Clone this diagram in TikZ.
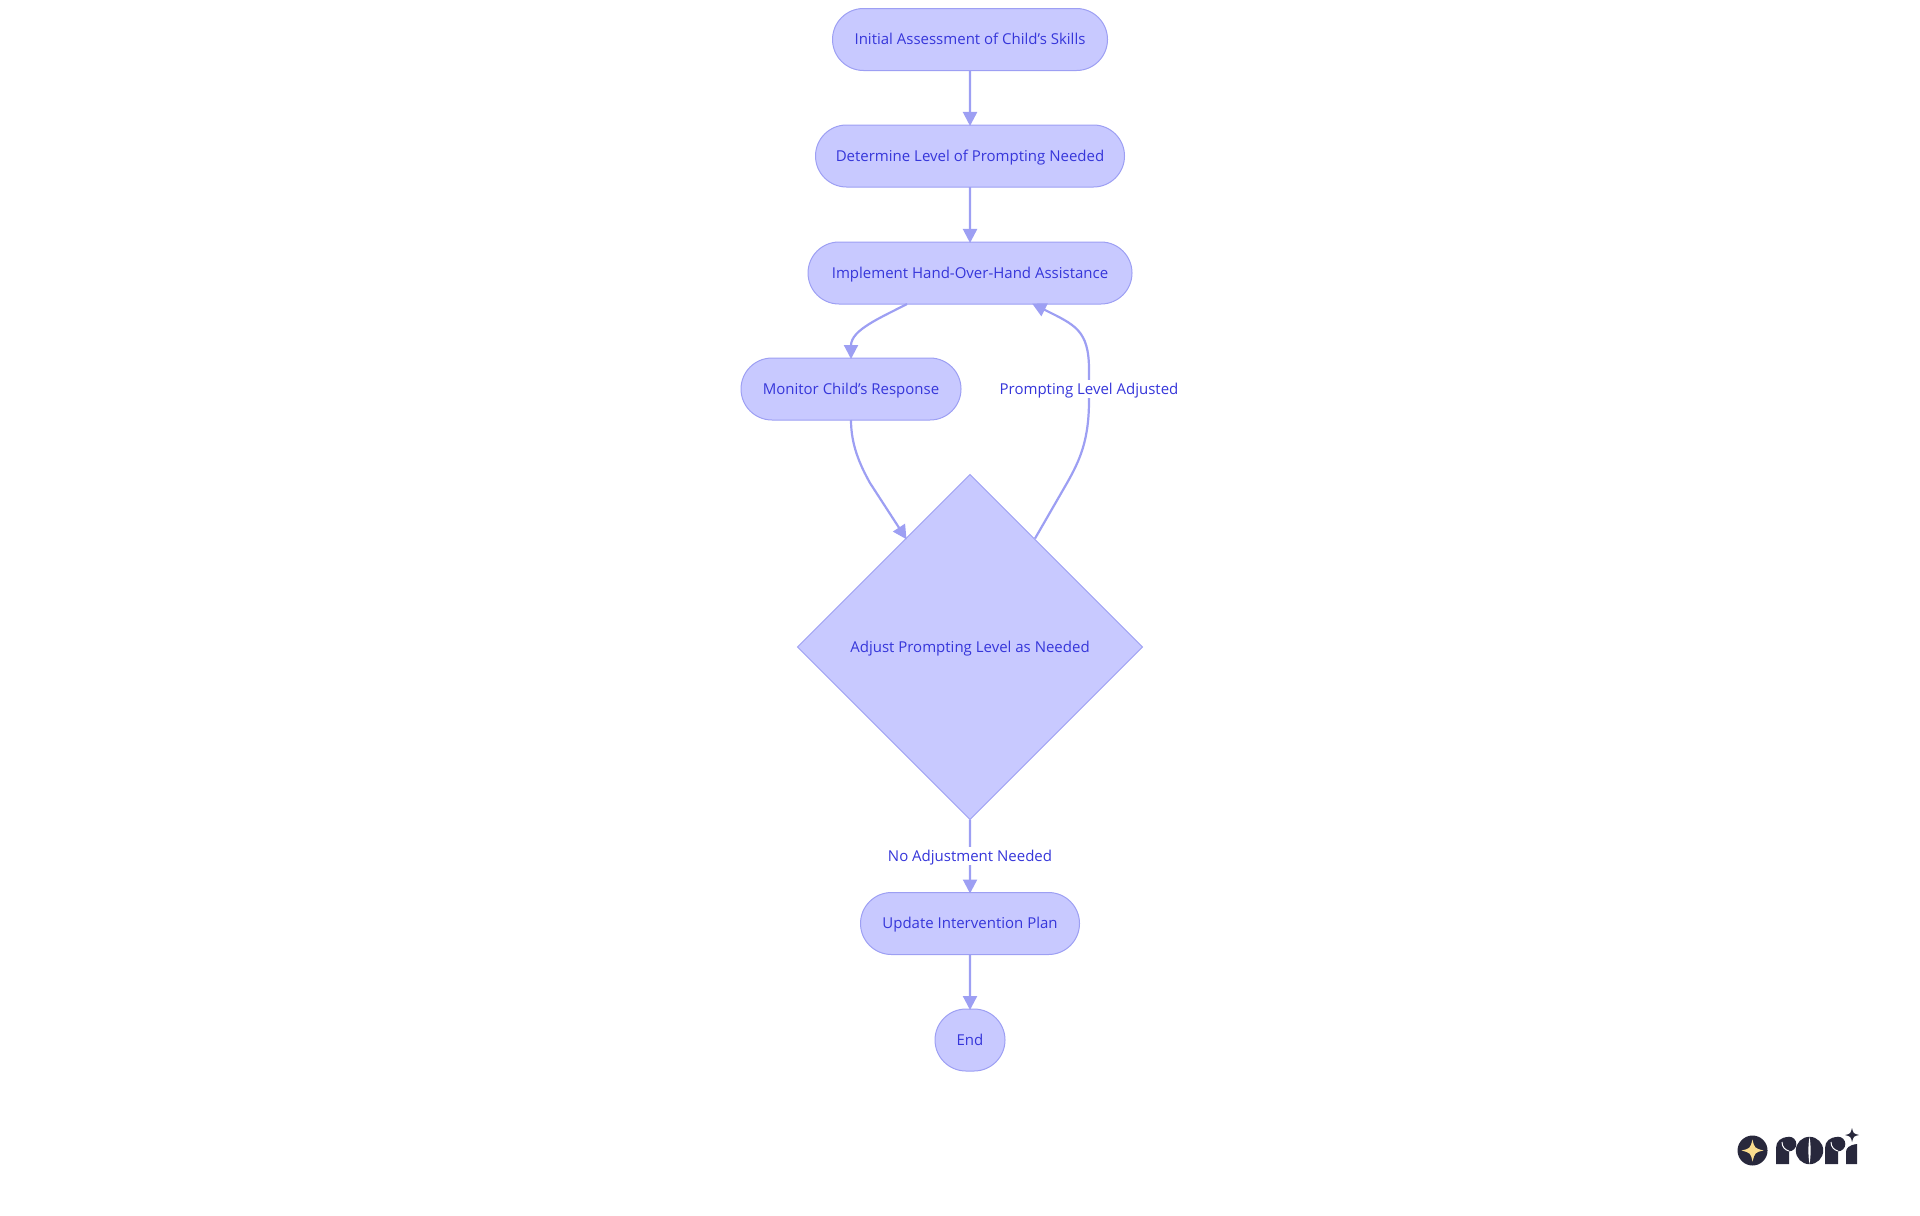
\documentclass[tikz,border=0pt]{standalone}
\usepackage{fontspec}
\setmainfont{Open Sans}
\usetikzlibrary{arrows.meta,shapes.geometric,shapes.misc}
\definecolor{nodefill}{HTML}{C8C9FF}
\definecolor{nodeline}{HTML}{9D9FF3}
\definecolor{nodetext}{HTML}{3636DA}
\definecolor{logodark}{HTML}{28283C}
\definecolor{logostar}{HTML}{FBDD8E}
\newcommand{\lgstar}[4]{\fill[#4,shift={(#1,#2)},scale=#3] (1,0) .. controls (.22,.18) .. (0,1) .. controls (-.18,.22) .. (-1,0) .. controls (-.22,-.18) .. (0,-1) .. controls (.18,-.22) .. cycle;}
\tikzset{
 x=0.5pt,y=-0.5pt,
 txt/.style={text=nodetext,font=\fontsize{7.5}{9}\selectfont,text height=7pt,text depth=2pt},
 pill/.style={rounded rectangle,draw=nodeline,fill=nodefill,line width=0.5pt,txt,minimum height=31pt,inner sep=0pt,outer sep=0pt},
 dia/.style={diamond,draw=nodeline,fill=nodefill,line width=0.5pt,txt,minimum width=172.5pt,minimum height=172.5pt,inner sep=0pt,outer sep=0pt,aspect=1},
 edge/.style={draw=nodeline,line width=1.1pt,shorten >=-0.5pt,-{Triangle[length=7pt,width=7pt]}},
 lab/.style={fill=white,txt,inner xsep=0pt,inner ysep=0pt,outer sep=0pt},
}
\begin{document}
\begin{tikzpicture}
\useasboundingbox (0,0) rectangle (1920,1215);
\node[pill,minimum width=137.5pt] (a) at (970,39.5) {Initial Assessment of Child's Skills};
\node[pill,minimum width=154.5pt] (b) at (970,156) {Determine Level of Prompting Needed};
\node[pill,minimum width=162pt] (c) at (970,273) {Implement Hand-Over-Hand Assistance};
\node[pill,minimum width=110pt] (d) at (851,389) {Monitor Child's Response};
\node[dia] (e) at (970,647) {Adjust Prompting Level as Needed};
\node[pill,minimum width=109.5pt] (f) at (970,923.5) {Update Intervention Plan};
\node[pill,minimum width=35pt] (g) at (970,1040) {End};
\draw[edge] (a) -- (b);
\draw[edge] (b) -- (c);
\draw[edge] ([xshift=-31.5pt]c.south) .. controls (880,318) and (851,330) .. (d.north);
\draw[edge] (d.south) .. controls (851,445) and (860,465) .. (870,483) -- ([xshift=-32pt,yshift=-32pt]e.north);
\draw[edge] ([xshift=32.5pt,yshift=-32pt]e.north) -- (1067,483) .. controls (1080,460) and (1089,440) .. (1089,400) -- (1089,370) .. controls (1089,330) and (1075,325) .. ([xshift=31.5pt]c.south);
\node[lab] (l1) at (1089,389) {Prompting Level Adjusted};
\draw[edge] (e) -- (f);
\node[lab] (l2) at (970,856) {No Adjustment Needed};
\draw[edge] (f) -- (g);
% logo
\fill[logodark] (1752.5,1150.5) circle[radius=15];
\lgstar{1752.5}{1150.5}{11}{logostar}
% r
\fill[logodark] (1776,1164) -- (1776,1148) .. controls (1776,1141) and (1781,1137) .. (1789,1137) -- (1789,1164) -- cycle;
\fill[logodark] (1789,1144) circle[radius=7.3];
\draw[white,line width=0.5pt] (1782,1142) .. controls (1782,1147) and (1785,1150) .. (1789,1151);
% o
\fill[logodark] (1809.5,1150.5) circle[radius=13.7];
\fill[white] (1809.5,1137) .. controls (1808,1145) and (1808,1156) .. (1809.5,1164) .. controls (1811,1156) and (1811,1145) .. cycle;
% r
\fill[logodark] (1825,1164) -- (1825,1148) .. controls (1825,1141) and (1830,1137) .. (1838,1137) -- (1838,1164) -- cycle;
\fill[logodark] (1838,1144) circle[radius=7.3];
\draw[white,line width=0.5pt] (1831,1142) .. controls (1831,1147) and (1834,1150) .. (1838,1151);
% i
\fill[logodark] (1846,1164) -- (1846,1152) .. controls (1846,1148) and (1849,1145) .. (1857,1144) -- (1857,1164) -- cycle;
\lgstar{1852}{1135}{7}{logodark}
\end{tikzpicture}
\end{document}
